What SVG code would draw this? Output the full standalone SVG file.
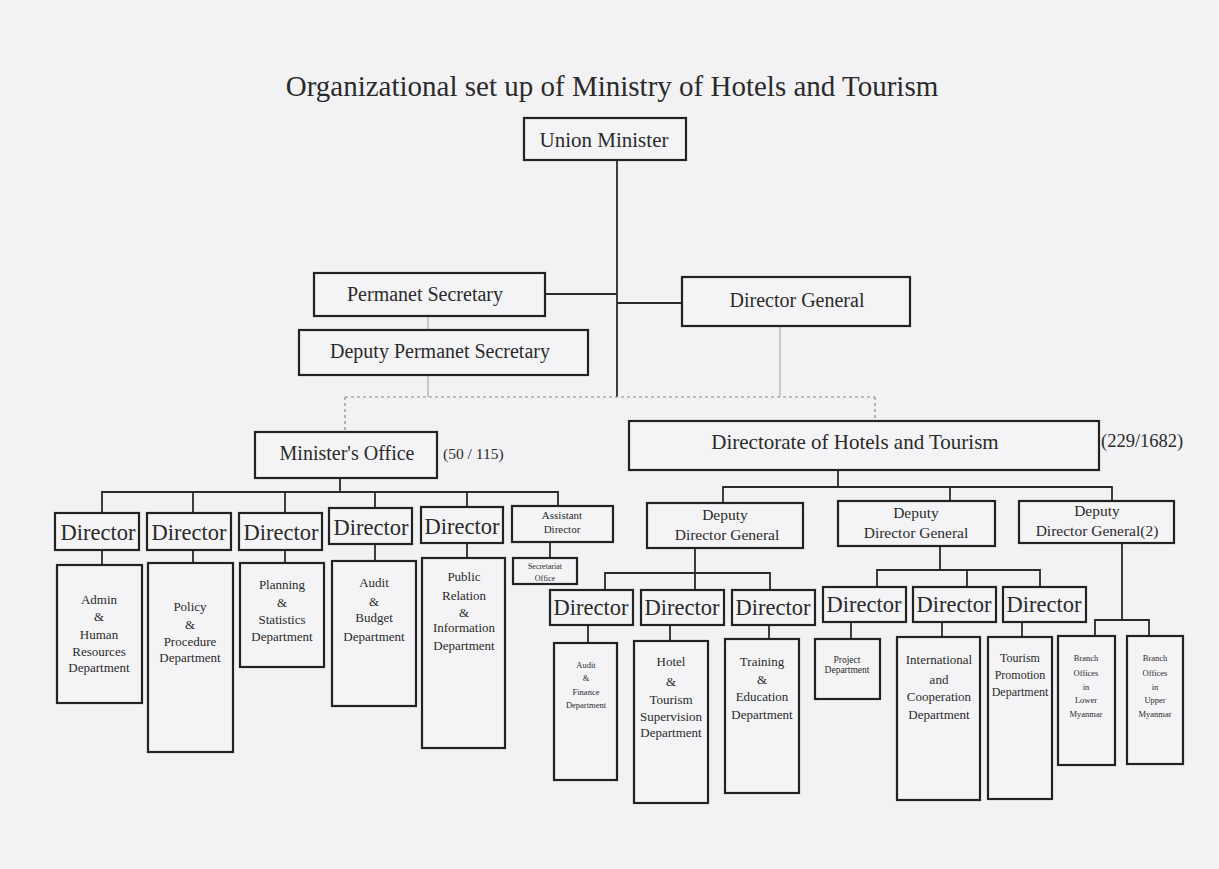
<svg xmlns="http://www.w3.org/2000/svg" width="1219" height="869" viewBox="0 0 1219 869">
<style>
text{font-family:"Liberation Serif","Times New Roman",serif;fill:#2a2a2a;text-anchor:middle}
.b{fill:#f4f4f6;stroke:#222;stroke-width:2.2}
.l{stroke:#2a2a2a;stroke-width:1.8;fill:none}
.d{stroke:#888;stroke-width:1.2;fill:none;stroke-dasharray:3 3}
.f{stroke:#aaa;stroke-width:1.2;fill:none}
.t20{font-size:20px}
.dir{font-size:22.5px}
.dep{font-size:13px}
.sm{font-size:8.5px}
.ddg{font-size:15.5px}
</style>
<rect width="1219" height="869" fill="#f2f2f5"/>
<text x="612" y="96" style="font-size:29px">Organizational set up of Ministry of Hotels and Tourism</text>

<g id="connectors">
<line class="l" x1="617" y1="160" x2="617" y2="397"/>
<line class="l" x1="545" y1="294" x2="617" y2="294"/>
<line class="l" x1="617" y1="303" x2="682" y2="303"/>
<line class="f" x1="428" y1="316" x2="428" y2="330"/>
<line class="f" x1="428" y1="375" x2="428" y2="397"/>
<line class="f" x1="780" y1="326" x2="780" y2="397"/>
<line class="d" x1="345" y1="397" x2="875" y2="397"/>
<line class="d" x1="345" y1="397" x2="345" y2="432"/>
<line class="d" x1="875" y1="397" x2="875" y2="421"/>
<line class="l" x1="340" y1="478" x2="340" y2="492"/>
<polyline class="l" points="102,513 102,492 558,492 558,506"/>
<line class="l" x1="193" y1="492" x2="193" y2="513"/>
<line class="l" x1="285" y1="492" x2="285" y2="513"/>
<line class="l" x1="375" y1="492" x2="375" y2="508"/>
<line class="l" x1="467" y1="492" x2="467" y2="507"/>
<line class="l" x1="102" y1="550" x2="102" y2="565"/>
<line class="l" x1="193" y1="550" x2="193" y2="563"/>
<line class="l" x1="285" y1="550" x2="285" y2="563"/>
<line class="l" x1="375" y1="544" x2="375" y2="561"/>
<line class="l" x1="467" y1="543" x2="467" y2="558"/>
<line class="l" x1="550" y1="542" x2="550" y2="558"/>
<line class="l" x1="838" y1="470" x2="838" y2="487"/>
<polyline class="l" points="723,503 723,487 1112,487 1112,501"/>
<line class="l" x1="950" y1="487" x2="950" y2="501"/>
<line class="l" x1="695" y1="548" x2="695" y2="573"/>
<polyline class="l" points="605,590 605,573 770,573 770,590"/>
<line class="l" x1="695" y1="573" x2="695" y2="590"/>
<line class="l" x1="588" y1="625" x2="588" y2="643"/>
<line class="l" x1="670" y1="625" x2="670" y2="641"/>
<line class="l" x1="769" y1="625" x2="769" y2="639"/>
<line class="l" x1="940" y1="546" x2="940" y2="570"/>
<polyline class="l" points="877,587 877,570 1040,570 1040,587"/>
<line class="l" x1="967" y1="570" x2="967" y2="587"/>
<line class="l" x1="851" y1="622" x2="851" y2="639"/>
<line class="l" x1="942" y1="622" x2="942" y2="637"/>
<line class="l" x1="1022" y1="622" x2="1022" y2="637"/>
<line class="l" x1="1122" y1="543" x2="1122" y2="620"/>
<polyline class="l" points="1095,636 1095,620 1149,620 1149,636"/>
</g>

<g id="union-minister"><rect class="b" x="524" y="118" width="162" height="42"/><text class="t20" x="604" y="147" style="font-size:21px">Union Minister</text></g>
<g id="permanent-secretary"><rect class="b" x="314" y="273" width="231" height="43"/><text class="t20" x="425" y="301">Permanet Secretary</text></g>
<g id="director-general"><rect class="b" x="682" y="277" width="228" height="49"/><text class="t20" x="797" y="307">Director General</text></g>
<g id="deputy-permanent-secretary"><rect class="b" x="299" y="330" width="289" height="45"/><text class="t20" x="440" y="358">Deputy Permanet Secretary</text></g>

<g id="ministers-office"><rect class="b" x="255" y="432" width="182" height="46"/><text class="t20" x="347" y="460">Minister's Office</text><text x="443" y="459" style="font-size:15.5px;text-anchor:start">(50 / 115)</text></g>
<g id="directorate"><rect class="b" x="629" y="421" width="470" height="49"/><text class="t20" x="855" y="449" style="font-size:21px">Directorate of Hotels and Tourism</text><text x="1101" y="447" style="font-size:18.5px;text-anchor:start">(229/1682)</text></g>

<g id="director-1"><rect class="b" x="55" y="513" width="84" height="37"/><text class="dir" x="98" y="540">Director</text></g>
<g id="director-2"><rect class="b" x="147" y="513" width="84" height="37"/><text class="dir" x="189" y="540">Director</text></g>
<g id="director-3"><rect class="b" x="239" y="513" width="83" height="37"/><text class="dir" x="281" y="540">Director</text></g>
<g id="director-4"><rect class="b" x="329" y="508" width="83" height="36"/><text class="dir" x="371" y="535">Director</text></g>
<g id="director-5"><rect class="b" x="421" y="507" width="82" height="36"/><text class="dir" x="462" y="534">Director</text></g>
<g id="assistant-director"><rect class="b" x="512" y="506" width="101" height="36"/><text x="562" y="519" style="font-size:11px">Assistant</text><text x="562" y="533" style="font-size:11px">Director</text></g>

<g id="dept-admin"><rect class="b" x="57" y="565" width="85" height="138"/><text class="dep" x="99" y="604">Admin</text><text class="dep" x="99" y="621">&amp;</text><text class="dep" x="99" y="639">Human</text><text class="dep" x="99" y="656">Resources</text><text class="dep" x="99" y="672">Department</text></g>
<g id="dept-policy"><rect class="b" x="148" y="563" width="85" height="189"/><text class="dep" x="190" y="611">Policy</text><text class="dep" x="190" y="629">&amp;</text><text class="dep" x="190" y="646">Procedure</text><text class="dep" x="190" y="662">Department</text></g>
<g id="dept-planning"><rect class="b" x="240" y="563" width="84" height="104"/><text class="dep" x="282" y="589">Planning</text><text class="dep" x="282" y="607">&amp;</text><text class="dep" x="282" y="624">Statistics</text><text class="dep" x="282" y="641">Department</text></g>
<g id="dept-audit-budget"><rect class="b" x="332" y="561" width="84" height="145"/><text class="dep" x="374" y="587">Audit</text><text class="dep" x="374" y="606">&amp;</text><text class="dep" x="374" y="622">Budget</text><text class="dep" x="374" y="641">Department</text></g>
<g id="dept-public-relation"><rect class="b" x="422" y="558" width="83" height="190"/><text class="dep" x="464" y="581">Public</text><text class="dep" x="464" y="600">Relation</text><text class="dep" x="464" y="617">&amp;</text><text class="dep" x="464" y="632">Information</text><text class="dep" x="464" y="650">Department</text></g>
<g id="secretariat-office"><rect class="b" x="513" y="558" width="64" height="26"/><text x="545" y="569" style="font-size:8px">Secretariat</text><text x="545" y="581" style="font-size:8px">Office</text></g>

<g id="ddg-1"><rect class="b" x="647" y="503" width="156" height="45"/><text class="ddg" x="725" y="520">Deputy</text><text class="ddg" x="727" y="540">Director General</text></g>
<g id="ddg-2"><rect class="b" x="838" y="501" width="157" height="45"/><text class="ddg" x="916" y="518">Deputy</text><text class="ddg" x="916" y="538">Director General</text></g>
<g id="ddg-3"><rect class="b" x="1019" y="501" width="155" height="42"/><text class="ddg" x="1097" y="516">Deputy</text><text class="ddg" x="1097" y="536">Director General(2)</text></g>

<g id="director-6"><rect class="b" x="550" y="590" width="83" height="35"/><text class="dir" x="591" y="615">Director</text></g>
<g id="director-7"><rect class="b" x="641" y="590" width="83" height="35"/><text class="dir" x="682" y="615">Director</text></g>
<g id="director-8"><rect class="b" x="732" y="590" width="83" height="35"/><text class="dir" x="773" y="615">Director</text></g>
<g id="director-9"><rect class="b" x="823" y="587" width="83" height="35"/><text class="dir" x="864" y="612">Director</text></g>
<g id="director-10"><rect class="b" x="913" y="587" width="83" height="35"/><text class="dir" x="954" y="612">Director</text></g>
<g id="director-11"><rect class="b" x="1003" y="587" width="83" height="35"/><text class="dir" x="1044" y="612">Director</text></g>

<g id="dept-audit-finance"><rect class="b" x="554" y="643" width="63" height="137"/><text class="sm" x="586" y="668">Audit</text><text class="sm" x="586" y="681">&amp;</text><text class="sm" x="586" y="695">Finance</text><text class="sm" x="586" y="708">Department</text></g>
<g id="dept-hotel-tourism"><rect class="b" x="634" y="641" width="74" height="162"/><text class="dep" x="671" y="666">Hotel</text><text class="dep" x="671" y="686">&amp;</text><text class="dep" x="671" y="704">Tourism</text><text class="dep" x="671" y="721">Supervision</text><text class="dep" x="671" y="737">Department</text></g>
<g id="dept-training"><rect class="b" x="725" y="639" width="74" height="154"/><text class="dep" x="762" y="666">Training</text><text class="dep" x="762" y="684">&amp;</text><text class="dep" x="762" y="701">Education</text><text class="dep" x="762" y="719">Department</text></g>
<g id="dept-project"><rect class="b" x="815" y="639" width="65" height="60"/><text x="847" y="663" style="font-size:9.5px">Project</text><text x="847" y="673" style="font-size:9.5px">Department</text></g>
<g id="dept-international"><rect class="b" x="897" y="637" width="83" height="163"/><text class="dep" x="939" y="664">International</text><text class="dep" x="939" y="684">and</text><text class="dep" x="939" y="701">Cooperation</text><text class="dep" x="939" y="719">Department</text></g>
<g id="dept-tourism-promotion"><rect class="b" x="988" y="637" width="64" height="162"/><text x="1020" y="662" style="font-size:12px">Tourism</text><text x="1020" y="679" style="font-size:12px">Promotion</text><text x="1020" y="696" style="font-size:12px">Department</text></g>
<g id="branch-lower"><rect class="b" x="1058" y="636" width="57" height="129"/><text class="sm" x="1086" y="661">Branch</text><text class="sm" x="1086" y="676">Offices</text><text class="sm" x="1086" y="690">in</text><text class="sm" x="1086" y="703">Lower</text><text class="sm" x="1086" y="717">Myanmar</text></g>
<g id="branch-upper"><rect class="b" x="1127" y="636" width="56" height="128"/><text class="sm" x="1155" y="661">Branch</text><text class="sm" x="1155" y="676">Offices</text><text class="sm" x="1155" y="690">in</text><text class="sm" x="1155" y="703">Upper</text><text class="sm" x="1155" y="717">Myanmar</text></g>
</svg>
